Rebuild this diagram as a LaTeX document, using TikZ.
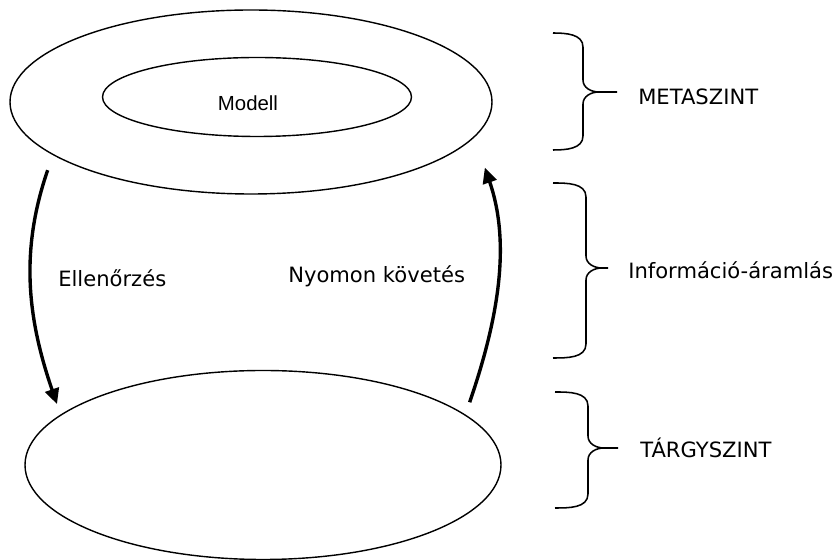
\documentclass[tikz,border=0pt]{standalone}
\usepackage{fontspec}
\setmainfont{DejaVu Sans}
\newfontfamily\arialfont{Liberation Sans}
\usetikzlibrary{shapes.geometric,arrows.meta}

\tikzset{
  level/.style={draw,ellipse,line width=1pt,inner sep=0pt},
  flow/.style={line width=2.4pt,-{Triangle[length=11pt,width=10pt]}},
  lbl/.style={inner sep=0pt,anchor=west,font=\fontsize{15}{18}\selectfont},
  curly/.style={line width=1.1pt}
}

\begin{document}
\begin{tikzpicture}
  \useasboundingbox (0,0) rectangle (21,14);
  % meta level
  \node[level,minimum width=12.05cm,minimum height=4.6cm] (meta) at (6.275,11.45) {};
  \node[level,minimum width=7.725cm,minimum height=1.975cm] (inner) at (6.425,11.575) {};
  \node[font=\arialfont\fontsize{14.5}{17}\selectfont,inner sep=0pt] (modell) at (6.2,11.425) {Modell};
  % object level
  \node[level,minimum width=11.9cm,minimum height=4.725cm] (obj) at (6.575,2.375) {};
  % information flow
  \draw[flow,shorten <=0.4cm,shorten >=0.275cm] (meta.195) to[out=-109,in=109] (obj.166);
  \draw[flow,shorten <=0.325cm,shorten >=0.8cm] (obj.14) to[out=71,in=-71] (meta.351);
  \node[lbl] (check) at (1.45,7.05) {Ellenőrzés};
  \node[lbl] (trace) at (7.2,7.1) {Nyomon követés};
  % braces
  \foreach \lx/\vx/\tx/\ty/\my/\by in {13.825/14.575/15.425/13.175/11.7/10.25,
      13.825/14.65/15.2/9.425/7.3/5.05, 13.875/14.7/15.45/4.2/2.8/1.3}
    \draw[curly] (\lx,\ty) to[out=0,in=90] (\vx,\ty-0.35) -- (\vx,\my+0.3)
      to[out=-90,in=180] (\vx+0.4,\my) -- (\tx,\my) -- (\vx+0.4,\my)
      to[out=180,in=90] (\vx,\my-0.3) -- (\vx,\by+0.35) to[out=-90,in=0] (\lx,\by);
  \node[lbl] (metalbl) at (15.95,11.575) {METASZINT};
  \node[lbl] (flowlbl) at (15.7,7.25) {Információ-áramlás};
  \node[lbl] (objlbl) at (16.0,2.8) {TÁRGYSZINT};
\end{tikzpicture}
\end{document}
